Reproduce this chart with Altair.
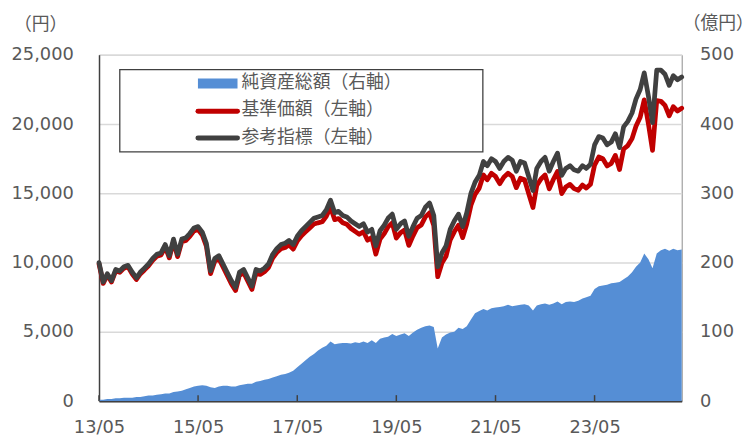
import altair as alt
import pandas as pd

# ---- data (monthly) ----
dates = pd.date_range("2013-05-01", "2025-02-01", freq="MS").strftime("%Y-%m-%d").tolist()

index_vals = [
    10000, 8600, 9200, 8700, 9500, 9400, 9700, 9800,
    9300, 8900, 9300, 9600, 9900, 10300, 10600, 10700, 11300, 10500, 11700, 10600,
    11700, 11800, 12100, 12500, 12600, 12200, 11400, 9400, 10300, 10500, 9900, 9300,
    8700, 8200, 9300, 9500, 8900, 8300, 9500, 9400, 9600, 9900, 10600, 11000,
    11300, 11400, 11600, 11300, 11900, 12300, 12600, 12900, 13200, 13300, 13400, 13800,
    14500, 13600, 13700, 13400, 13300, 13000, 12800, 12600, 12800, 12200, 12400, 11200,
    12300, 12700, 13200, 13500, 12400, 12800, 13000, 11900, 12600, 13200, 13400, 14000,
    14300, 13400, 9700, 10700, 11200, 12400, 13000, 13500, 12600, 13600, 15000, 15800,
    16300, 17300, 17000, 17500, 17300, 16800, 17300, 17600, 17400, 16600, 17300, 17200,
    16200, 15200, 16800, 17300, 17600, 16600, 17300, 17900, 16300, 16800, 17000, 16700,
    16600, 17000, 16800, 17100, 18500, 19100, 19000, 18500, 18700, 19300, 18300, 19800,
    20200, 20800, 21800, 22500, 23700, 22000, 20100, 23900, 23900, 23600, 22800, 23500,
    23200, 23400,
]

nav_vals = [
    9900, 8500, 9100, 8600, 9400, 9300, 9600, 9700,
    9180, 8780, 9180, 9470, 9770, 10160, 10450, 10550, 11140, 10340, 11530, 10430,
    11510, 11600, 11890, 12290, 12390, 11990, 11190, 9200, 10100, 10290, 9690, 9090,
    8480, 7980, 9070, 9270, 8670, 8060, 9250, 9150, 9340, 9640, 10330, 10720,
    11000, 11090, 11280, 10970, 11550, 11940, 12220, 12500, 12780, 12870, 12950, 13340,
    14000, 13100, 13180, 12880, 12770, 12460, 12250, 12040, 12230, 11620, 11810, 10610,
    11700, 12090, 12580, 12870, 11770, 12160, 12350, 11240, 11930, 12520, 12710, 13300,
    13590, 12680, 8980, 9960, 10450, 11630, 12220, 12700, 11800, 12780, 14150, 14920,
    15380, 16330, 15980, 16450, 16220, 15700, 16170, 16450, 16230, 15410, 16090, 15980,
    14960, 13980, 15560, 16040, 16330, 15320, 16000, 16580, 14980, 15460, 15650, 15340,
    15220, 15600, 15380, 15660, 17040, 17620, 17500, 16980, 17160, 17740, 16720, 18200,
    18450, 18950, 19850, 20500, 21750, 20000, 18100, 21700, 21650, 21350, 20600, 21250,
    20950, 21150,
]

aum_vals = [
    2, 2, 3, 3, 4, 4, 5, 5,
    5, 6, 6, 7, 8, 8, 9, 10, 11, 11, 13, 14,
    15, 17, 19, 21, 22, 23, 22, 20, 19, 21, 22, 22,
    21, 21, 23, 24, 25, 25, 28, 29, 31, 32, 34, 36,
    38, 39, 41, 44, 49, 54, 59, 64, 68, 73, 77, 80,
    86, 82, 83, 84, 84, 83, 85, 84, 86, 84, 88, 84,
    90, 92, 93, 97, 94, 96, 98, 94, 99, 103, 106, 108,
    109, 107, 76, 92, 96, 99, 100, 106, 104, 108, 118, 127,
    130, 133, 131, 134, 135, 136, 137, 139, 137, 138, 139, 140,
    138, 131, 138, 140, 141, 139, 141, 144, 140, 143, 144, 143,
    145, 148, 150, 152, 162, 166, 167, 168, 170, 171, 172, 176,
    180, 186, 194, 200, 213, 205, 192, 213, 218, 220, 217, 220,
    218, 219,
]

tick_years = [2013, 2015, 2017, 2019, 2021, 2023]
left_ticks = [0, 5000, 10000, 15000, 20000, 25000]
right_ticks = [0, 100, 200, 300, 400, 500]
legend_labels = ["純資産総額（右軸）", "基準価額（左軸）", "参考指標（左軸）"]
left_unit = "（円）"
right_unit = "（億円）"

AREA_C = "#558ed5"
NAV_C = "#c00000"
IDX_C = "#404040"
TXT_C = "#595959"
NUM_FONT = "DejaVu Sans"
JP_FONT = "Noto Sans CJK JP"

df = pd.DataFrame({"date": dates, "idx": index_vals, "nav": nav_vals, "aum": aum_vals})
df_ticks = pd.DataFrame({"date": [f"{y}-05-01" for y in tick_years]})
one = pd.DataFrame({"k": [0]})

W, H = 589, 350


def dt(y, m, d):
    return alt.DateTime(year=y, month=m, date=d, utc=True)


x_enc = alt.X(
    "date:T",
    scale=alt.Scale(type="utc", domain=[dt(2013, 5, 1), dt(2025, 2, 1)], nice=False),
    axis=alt.Axis(
        values=[dt(y, 5, 1) for y in tick_years],
        format="%y/%m",
        title=None,
        ticks=False,
        grid=False,
        domainColor="#404040",
        domainWidth=2,
        labelFont=NUM_FONT,
        labelFontSize=18,
        labelColor=TXT_C,
        labelPadding=18,
        labelFlush=False,
    ),
)

area = alt.Chart(df).mark_area(color=AREA_C, opacity=1).encode(
    x=x_enc,
    y=alt.Y(
        "aum:Q",
        scale=alt.Scale(domain=[0, 500], nice=False),
        axis=alt.Axis(
            orient="right",
            values=right_ticks,
            format=".0f",
            grid=False,
            domain=False,
            ticks=False,
            labelFont=NUM_FONT,
            labelFontSize=18,
            labelColor=TXT_C,
            labelPadding=18,
            labelFlush=False,
            title=None,
        ),
    ),
)

nav_line = alt.Chart(df).mark_line(color=NAV_C, strokeWidth=4.8, strokeJoin="round", strokeCap="round").encode(
    x=x_enc,
    y=alt.Y(
        "nav:Q",
        scale=alt.Scale(domain=[0, 25000], nice=False),
        axis=alt.Axis(
            orient="left",
            values=left_ticks,
            format=",.0f",
            grid=True,
            gridColor="#d9d9d9",
            gridWidth=1.5,
            domain=True,
            domainColor="#404040",
            domainWidth=1.5,
            ticks=False,
            labelFont=NUM_FONT,
            labelFontSize=18,
            labelColor=TXT_C,
            labelPadding=26,
            labelFlush=False,
            title=None,
        ),
    ),
)

idx_line = alt.Chart(df).mark_line(color=IDX_C, strokeWidth=4.8, strokeJoin="round", strokeCap="round").encode(
    x=x_enc,
    y=alt.Y("idx:Q", scale=alt.Scale(domain=[0, 25000], nice=False), axis=None),
)

ticks = alt.Chart(df_ticks).mark_rule(color="#404040", strokeWidth=1.5).encode(
    x=x_enc, y=alt.value(H - 6), y2=alt.value(H)
)


def label_text(label, xpos, ypos):
    return alt.Chart(one).mark_text(
        align="left", baseline="middle", font=JP_FONT, fontSize=18, color=TXT_C
    ).encode(x=alt.value(xpos), y=alt.value(ypos), text=alt.value(label))


# unit labels above the two axes
unit_layers = [label_text(left_unit, -86, -30), label_text(right_unit, 590, -31)]

# legend (drawn inside the plot area, as in the reference)
leg_box = alt.Chart(one).mark_rect(fill="white", stroke="#404040", strokeWidth=1.3).encode(
    x=alt.value(21), x2=alt.value(388), y=alt.value(15), y2=alt.value(98)
)
leg_area = alt.Chart(one).mark_rect(fill=AREA_C).encode(
    x=alt.value(100), x2=alt.value(140), y=alt.value(24), y2=alt.value(34)
)
leg_nav = alt.Chart(one).mark_rule(color=NAV_C, strokeWidth=5, strokeCap="round").encode(
    x=alt.value(100), x2=alt.value(140), y=alt.value(57)
)
leg_idx = alt.Chart(one).mark_rule(color=IDX_C, strokeWidth=5, strokeCap="round").encode(
    x=alt.value(100), x2=alt.value(140), y=alt.value(84)
)

legend_layers = [
    leg_box, leg_area, leg_nav, leg_idx,
    label_text(legend_labels[0], 144, 29),
    label_text(legend_labels[1], 144, 56),
    label_text(legend_labels[2], 144, 84),
]

chart = (
    alt.layer(area, nav_line, idx_line, ticks, *unit_layers, *legend_layers)
    .resolve_scale(y="independent")
    .properties(
        width=W,
        height=H,
        autosize=alt.AutoSizeParams(type="none"),
        padding={"left": 92, "top": 45, "right": 65, "bottom": 40},
        background="white",
    )
    .configure_view(stroke="#8c8c8c", strokeWidth=1)
)

chart.save("out.html", embed_options={"renderer": "svg", "actions": False})
